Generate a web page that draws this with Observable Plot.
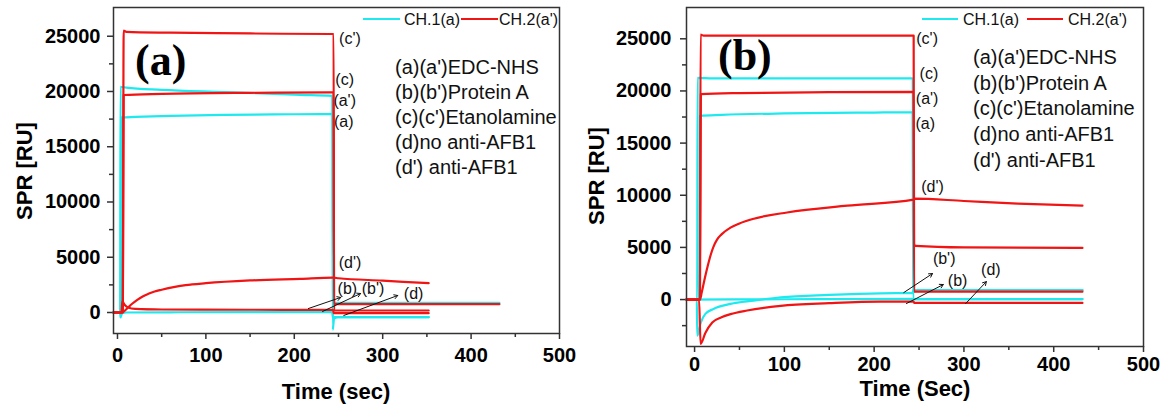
<!DOCTYPE html>
<html>
<head>
<meta charset="utf-8">
<script src="https://cdn.jsdelivr.net/npm/d3@7"></script>
<script src="https://cdn.jsdelivr.net/npm/@observablehq/plot@0.6"></script>
<style>
  body { margin: 0; background: #fff; }
  #wrap { position: relative; width: 1167px; height: 413px; overflow: hidden; background: #fff; }
  #wrap svg { position: absolute; top: 0; }
</style>
</head>
<body>
<div id="wrap"></div>
<script>
// ---------- Panel (a) data ----------
const A_cyanA_t = [-4.5, 4, 5, 20, 60, 120, 200, 243.5, 244, 432];
const A_cyanA_v = [0, 0, 17650, 17700, 17800, 17880, 17940, 17960, 870, 870];
const A_cyanC_t = [-4.5, 3, 3.4, 10, 50, 120, 207, 243, 243.5, 245, 250, 352];
const A_cyanC_v = [0, 0, 20430, 20350, 20150, 19950, 19700, 19600, -1560, -550, -430, -420];
const A_cyanB_t = [-4.5, 3, 3.5, 5, 10, 60, 150, 243, 243.5, 352];
const A_cyanB_v = [0, 0, -450, -100, 0, 20, 30, 30, -420, -420];
const A_redC_t = [-4.5, 6, 7, 10, 60, 150, 242, 244.5, 245, 352];
const A_redC_v = [0, 0, 25500, 25400, 25320, 25250, 25200, 25200, 180, 180];
const A_redA_t = [-4.5, 6, 7, 50, 150, 242, 244.5, 245, 432];
const A_redA_v = [0, 0, 19680, 19780, 19880, 19920, 19920, 750, 750];
const A_redB_t = [-4.5, 4.5, 5.5, 8, 12, 20, 50, 150, 244, 244.5, 352];
const A_redB_v = [0, 0, 1000, 700, 450, 320, 270, 250, 240, -60, -60];
const A_redD_t = [-4.5, 5, 8, 12, 16.6, 22, 28, 35, 42, 50, 62, 77, 100, 150, 207, 244, 250, 300, 352];
const A_redD_v = [0, 0, 150, 450, 790, 1120, 1430, 1690, 1900, 2060, 2270, 2470, 2650, 2900, 3050, 3150, 3100, 2880, 2650];

const A_lab_text = ["(c')", "(c)", "(a')", "(a)", "(d')", "(b)", "(b')", "(d)"];
const A_lab_t = [263, 257, 257, 256, 263, 260, 289, 335];
const A_lab_v = [24770, 21060, 19160, 17270, 4520, 2170, 2170, 1720];
const A_arr_t1 = [216, 232, 256];
const A_arr_v1 = [360, 90, -270];
const A_arr_t2 = [252.5, 275, 317];
const A_arr_v2 = [1360, 1720, 1540];

// ---------- Panel (b) data ----------
const B_cyanC_t = [-9, 3, 3.3, 20, 100, 200, 243, 243.5, 432];
const B_cyanC_v = [0, 0, 21250, 21200, 21200, 21200, 21200, 900, 900];
const B_cyanA_t = [-9, 5, 6, 30, 100, 200, 243, 243.5, 432];
const B_cyanA_v = [0, 0, 17600, 17700, 17850, 17930, 17950, 50, 50];
const B_cyanB_t = [-9, 2.5, 3, 7, 12, 21, 40, 66, 96, 150, 207, 243, 243.5, 432];
const B_cyanB_v = [0, 0, -3450, -2200, -1370, -900, -420, -100, 220, 450, 600, 620, 900, 900];
const B_cyanD_t = [-9, 100, 243, 243.5, 432];
const B_cyanD_v = [0, 30, 60, 50, 50];
const B_redC_t = [-9, 6, 6.7, 10, 100, 200, 244, 244.5, 246, 300, 432];
const B_redC_v = [0, 0, 25400, 25300, 25300, 25300, 25300, 5300, 5150, 5000, 4950];
const B_redA_t = [-9, 6, 7, 50, 150, 244, 244.5, 432];
const B_redA_v = [0, 0, 19700, 19800, 19880, 19920, 760, 760];
const B_redD_t = [-9, 5, 6, 8, 10, 14, 18, 21, 25, 30, 40, 50, 66, 103, 170, 244, 245, 300, 360, 432];
const B_redD_v = [0, 0, 0, 700, 1500, 3000, 4300, 5050, 5750, 6250, 6900, 7300, 7750, 8350, 9000, 9580, 9680, 9450, 9200, 9000];
const B_redB_t = [-9, 5, 6.7, 12, 19.7, 30, 40, 58.6, 96, 150, 207, 244, 244.5, 432];
const B_redB_v = [0, 0, -4250, -3200, -2200, -1700, -1400, -1050, -600, -350, -200, -200, -320, -320];

const B_lab_text = ["(c')", "(c)", "(a')", "(a)", "(d')", "(b')", "(b)", "(d)"];
const B_lab_t = [259, 261, 259, 257, 265, 278, 293, 330];
const B_lab_v = [25000, 21650, 19260, 16860, 10800, 3930, 1820, 2870];
const B_arr_t1 = [233, 236, 302];
const B_arr_v1 = [670, -380, -380];
const B_arr_t2 = [265, 277, 325];
const B_arr_v2 = [2490, 1440, 1720];

// ---------- shared text ----------
const legendNames = ["CH.1(a)", "CH.2(a')"];
const notes = ["(a)(a')EDC-NHS", "(b)(b')Protein A", "(c)(c')Etanolamine", "(d)no anti-AFB1", "(d') anti-AFB1"];
const xMajor = [0, 100, 200, 300, 400, 500];
const xMinor = [50, 150, 250, 350, 450];
const yMajor = [0, 5000, 10000, 15000, 20000, 25000];

const CYAN = "#1ee9ee";
const RED = "#f01414";
const SANS = "'Liberation Sans', Arial, sans-serif";
const SERIF = "'Liberation Serif', 'Times New Roman', serif";

function series(pairs) {
  const rows = [];
  pairs.forEach(([t, v], i) => t.forEach((tt, j) => rows.push({ id: i, t: tt, v: v[j] })));
  return rows;
}
function rowsOf(cols) {
  const keys = Object.keys(cols);
  return cols[keys[0]].map((_, i) => Object.fromEntries(keys.map(k => [k, cols[k][i]])));
}

function panel(cfg) {
  const cyanRows = series(cfg.cyan);
  const redRows = series(cfg.red);
  const labels = rowsOf({ text: cfg.labText, t: cfg.labT, v: cfg.labV });
  const arrows = rowsOf({ t1: cfg.arrT1, v1: cfg.arrV1, t2: cfg.arrT2, v2: cfg.arrV2 });
  const svg = Plot.plot({
    width: cfg.width, height: 413,
    marginLeft: cfg.ml, marginRight: cfg.mr, marginTop: 7, marginBottom: cfg.mb,
    x: { domain: cfg.xDomain },
    y: { domain: cfg.yDomain },
    style: { fontFamily: SANS, fontSize: "20px", fontWeight: "bold", color: "#000", background: "transparent", overflow: "visible" },
    marks: [
      Plot.axisX({ ticks: xMajor, tickSize: 6, tickPadding: cfg.xPad, tickFormat: d => String(d), label: null, stroke: "#333", strokeWidth: 1.5 }),
      Plot.axisX({ ticks: xMinor, tickSize: 4, tickFormat: () => "", label: null, stroke: "#333", strokeWidth: 1.5 }),
      Plot.axisY({ ticks: yMajor, tickSize: 6, tickPadding: cfg.yPad, tickFormat: d => String(d), label: null, stroke: "#333", strokeWidth: 1.5 }),
      Plot.axisY({ ticks: cfg.yMinor, tickSize: 4, tickFormat: () => "", label: null, stroke: "#333", strokeWidth: 1.5 }),
      Plot.line(cyanRows, { x: "t", y: "v", z: "id", stroke: CYAN, strokeWidth: 2.2, curve: "monotone-x" }),
      Plot.line(redRows, { x: "t", y: "v", z: "id", stroke: RED, strokeWidth: 2.2, curve: "monotone-x" }),
      Plot.arrow(arrows, { x1: "t1", y1: "v1", x2: "t2", y2: "v2", stroke: "#111", strokeWidth: 1, headLength: 6 }),
      Plot.text(labels, { x: "t", y: "v", text: "text", fontSize: 16, fontWeight: "normal", fill: "#111" }),
      Plot.frame({ stroke: "#333", strokeWidth: 1.5 })
    ]
  });
  const s = d3.select(svg);
  // panel tag
  s.append("text").attr("x", cfg.tag[0]).attr("y", cfg.tag[1]).text(cfg.tagText).attr("text-anchor", "start")
    .attr("font-family", SERIF).attr("font-weight", "bold").attr("font-size", 44).attr("fill", "#000");
  // legend
  const lg = cfg.legend;
  s.append("line").attr("x1", lg.c1).attr("x2", lg.c2).attr("y1", 19).attr("y2", 19).attr("stroke", CYAN).attr("stroke-width", 2);
  s.append("text").attr("x", lg.t1).attr("y", 19).attr("dy", "0.35em").text(legendNames[0]).attr("text-anchor", "start")
    .attr("font-size", 16).attr("font-weight", "normal").attr("fill", "#111");
  s.append("line").attr("x1", lg.r1).attr("x2", lg.r2).attr("y1", 19).attr("y2", 19).attr("stroke", RED).attr("stroke-width", 2);
  s.append("text").attr("x", lg.t2).attr("y", 19).attr("dy", "0.35em").text(legendNames[1]).attr("text-anchor", "start")
    .attr("font-size", 16).attr("font-weight", "normal").attr("fill", "#111");
  // notes
  notes.forEach((n, i) => {
    s.append("text").attr("x", cfg.notes[0]).attr("y", cfg.notes[1] + cfg.notes[2] * i).attr("dy", "0.35em")
      .attr("text-anchor", "start")
      .text(n).attr("font-size", 20).attr("font-weight", "normal").attr("fill", "#111");
  });
  // axis titles
  s.append("text").attr("transform", `translate(${cfg.yTitle[0]},${cfg.yTitle[1]}) rotate(-90)`)
    .attr("text-anchor", "middle").attr("dy", "0.35em").text("SPR [RU]")
    .attr("font-size", 22).attr("font-weight", "bold").attr("fill", "#000");
  s.append("text").attr("x", cfg.xTitle[0]).attr("y", cfg.xTitle[1]).attr("text-anchor", "middle")
    .text(cfg.xTitleText).attr("font-size", 22).attr("font-weight", "bold").attr("fill", "#000");
  svg.style.left = cfg.left + "px";
  return svg;
}

const wrap = document.getElementById("wrap");
wrap.appendChild(panel({
  left: 0, width: 580, ml: 113, mr: 21, mb: 80, xPad: 8, yPad: 7,
  xDomain: [-4.5, 500], yDomain: [-1900, 27600],
  yMinor: [2500, 7500, 12500, 17500, 22500],
  cyan: [[A_cyanA_t, A_cyanA_v], [A_cyanC_t, A_cyanC_v], [A_cyanB_t, A_cyanB_v]],
  red: [[A_redC_t, A_redC_v], [A_redA_t, A_redA_v], [A_redB_t, A_redB_v], [A_redD_t, A_redD_v]],
  labText: A_lab_text, labT: A_lab_t, labV: A_lab_v,
  arrT1: A_arr_t1, arrV1: A_arr_v1, arrT2: A_arr_t2, arrV2: A_arr_v2,
  tag: [135, 75], tagText: "(a)",
  legend: { c1: 363, c2: 400, t1: 404, r1: 461, r2: 498, t2: 499 },
  notes: [395, 67, 25],
  yTitle: [24, 171], xTitle: [336, 399], xTitleText: "Time (sec)"
}));
wrap.appendChild(panel({
  left: 580, width: 587, ml: 106, mr: 24, mb: 67, xPad: 4, yPad: 9,
  xDomain: [-9, 500], yDomain: [-4500, 28000],
  yMinor: [-2500, 2500, 7500, 12500, 17500, 22500],
  cyan: [[B_cyanC_t, B_cyanC_v], [B_cyanA_t, B_cyanA_v], [B_cyanB_t, B_cyanB_v], [B_cyanD_t, B_cyanD_v]],
  red: [[B_redC_t, B_redC_v], [B_redA_t, B_redA_v], [B_redD_t, B_redD_v], [B_redB_t, B_redB_v]],
  labText: B_lab_text, labT: B_lab_t, labV: B_lab_v,
  arrT1: B_arr_t1, arrV1: B_arr_v1, arrT2: B_arr_t2, arrV2: B_arr_v2,
  tag: [138, 70], tagText: "(b)",
  legend: { c1: 342, c2: 378, t1: 383, r1: 447, r2: 483, t2: 488 },
  notes: [393, 57, 25.7],
  yTitle: [16, 176], xTitle: [335, 396], xTitleText: "Time (Sec)"
}));
</script>
</body>
</html>
